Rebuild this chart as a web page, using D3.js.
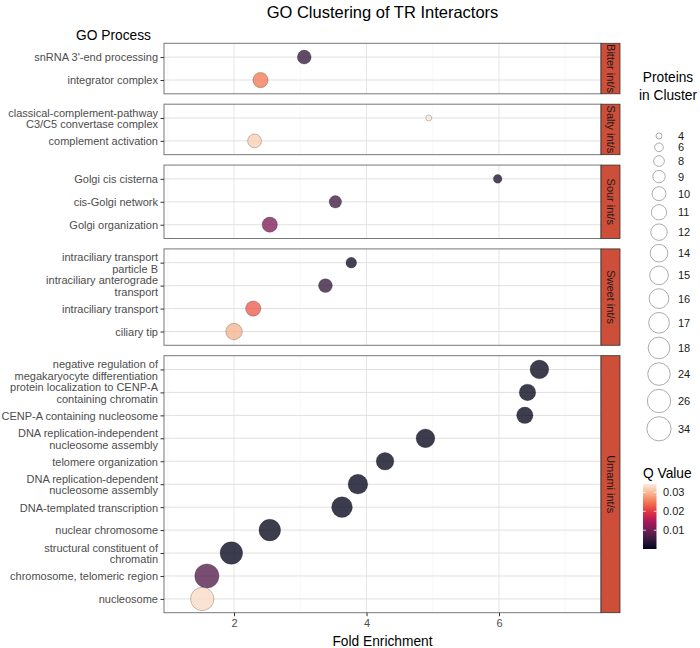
<!DOCTYPE html>
<html><head><meta charset="utf-8">
<script src="https://cdn.jsdelivr.net/npm/d3@7"></script>
<style>body{margin:0;background:#fff} svg{display:block} text{font-family:"Liberation Sans",Arial,Helvetica,sans-serif}</style>
</head><body><svg id="chart" width="700" height="648"></svg>
<script>
// ---------------- data ----------------
const clusters = ["Bitter int/s","Salty int/s","Sour int/s","Sweet int/s","Umami int/s"];
const terms = [
  "snRNA 3'-end processing","integrator complex",
  "classical-complement-pathway\nC3/C5 convertase complex","complement activation",
  "Golgi cis cisterna","cis-Golgi network","Golgi organization",
  "intraciliary transport\nparticle B","intraciliary anterograde\ntransport","intraciliary transport","ciliary tip",
  "negative regulation of\nmegakaryocyte differentiation","protein localization to CENP-A\ncontaining chromatin",
  "CENP-A containing nucleosome","DNA replication-independent\nnucleosome assembly","telomere organization",
  "DNA replication-dependent\nnucleosome assembly","DNA-templated transcription","nuclear chromosome",
  "structural constituent of\nchromatin","chromosome, telomeric region","nucleosome"
];
const termCluster = [0,0, 1,1, 2,2,2, 3,3,3,3, 4,4,4,4,4,4,4,4,4,4,4];
const foldEnrichment = [3.06,2.40, 4.94,2.31, 5.98,3.53,2.54, 3.77,3.38,2.29,2.00,
  6.61,6.43,6.39,4.89,4.28,3.87,3.63,2.54,1.96,1.59,1.52];
const qValue = [0.005,0.0248, 0.0344,0.0317, 0.003,0.006,0.011, 0.0015,0.005,0.0227,0.0295,
  0.0003,0.0004,0.0003,0.0002,0.0003,0.0002,0.0002,0.0003,0.0002,0.0076,0.033];
const proteins = [10,11, 4,10, 6,9,11, 8,10,11,12, 15,12,12,15,14,16,17,18,24,34,26];
const xTicks = [2,4,6];
const xMinorTicks = [1,3,5,7];
const xLimits = [0.943, 7.54];
const qTicks = [0.01,0.02,0.03];
const qLimits = [0.0001, 0.0344];
const rocketStops = ["#03051A","#35193E","#701F57","#AD1759","#E13342","#F37651","#F6B48F","#FAEBDD"];

// ---------------- layout ----------------
const svg = d3.select("#chart");
const panelLeft = 164, panelRight = 601, stripW = 19;
const plotTop = 43.3, plotBottom = 612.7, gap = 10.4;
const counts = clusters.map((c,i)=>termCluster.filter(t=>t===i).length);
const unitsTotal = d3.sum(counts, n => n - 1 + 1.2);
const u = (plotBottom - plotTop - gap*(clusters.length-1)) / unitsTotal;

const x = d3.scaleLinear().domain(xLimits).range([panelLeft, panelRight]);
const color = d3.scaleSequential(d3.piecewise(d3.interpolateRgb, rocketStops)).domain(qLimits);
const levels = Array.from(new Set(proteins)).sort((a,b)=>a-b);
const dMin = 6, dMax = 24.2;
const areaScale = d3.scaleLinear().domain([0, levels.length-1]).range([dMin*dMin, dMax*dMax]);
const diam = v => Math.sqrt(areaScale(levels.indexOf(v)));

const tickCol = "#4D4D4D";
let curTop = plotTop;
const panels = clusters.map((c,i)=>{
  const h = (counts[i]-1+1.2)*u;
  const idx = terms.map((t,j)=>j).filter(j=>termCluster[j]===i);
  const y = d3.scalePoint().domain(idx.map(j=>terms[j])).range([curTop, curTop+h]).padding(0.6);
  const p = {name:c, top:curTop, h, y, idx};
  curTop += h + gap;
  return p;
});

panels.forEach(p=>{
  const g = svg.append("g");
  g.append("rect").attr("x",panelLeft).attr("y",p.top).attr("width",panelRight-panelLeft).attr("height",p.h).attr("fill","#fff");
  g.selectAll(".vmin").data(xMinorTicks).join("line").attr("class","vmin")
    .attr("x1",d=>x(d)).attr("x2",d=>x(d)).attr("y1",p.top).attr("y2",p.top+p.h)
    .attr("stroke","#f3f3f3").attr("stroke-width",0.7);
  g.selectAll(".vmaj").data(xTicks).join("line").attr("class","vmaj")
    .attr("x1",d=>x(d)).attr("x2",d=>x(d)).attr("y1",p.top).attr("y2",p.top+p.h)
    .attr("stroke","#e6e6e6").attr("stroke-width",1);
  g.selectAll(".hmaj").data(p.y.domain()).join("line").attr("class","hmaj")
    .attr("x1",panelLeft).attr("x2",panelRight).attr("y1",d=>p.y(d)).attr("y2",d=>p.y(d))
    .attr("stroke","#e0e0e0").attr("stroke-width",1);
  g.selectAll("circle").data(p.idx).join("circle")
    .attr("cx",j=>x(foldEnrichment[j])).attr("cy",j=>p.y(terms[j]))
    .attr("r",j=>diam(proteins[j])/2)
    .attr("fill",j=>color(qValue[j])).attr("fill-opacity",0.78)
    .attr("stroke","#000").attr("stroke-opacity",0.45).attr("stroke-width",0.5);
  g.append("rect").attr("x",panelLeft).attr("y",p.top).attr("width",panelRight-panelLeft).attr("height",p.h)
    .attr("fill","none").attr("stroke","#777").attr("stroke-width",1);
  g.append("rect").attr("x",panelRight).attr("y",p.top).attr("width",stripW).attr("height",p.h)
    .attr("fill","#CD4F39").attr("stroke","#333").attr("stroke-width",0.8);
  g.append("text").attr("transform",`translate(${panelRight+stripW/2},${p.top+p.h/2}) rotate(90)`)
    .attr("text-anchor","middle").attr("dominant-baseline","central")
    .attr("font-size",11).attr("fill","#1a1a1a").text(p.name);
  const ax = svg.append("g").attr("transform",`translate(${panelLeft},0)`)
    .call(d3.axisLeft(p.y).tickSize(3.5).tickPadding(2.5));
  ax.select(".domain").remove();
  ax.selectAll(".tick line").attr("stroke","#333").attr("stroke-width",1);
  ax.selectAll(".tick text").each(function(d){
    const t = d3.select(this);
    const lines = d.split("\n");
    t.text(null).attr("dy",null).attr("font-size",11).attr("fill",tickCol)
      .attr("font-family","'Liberation Sans',Arial,sans-serif");
    const lh = 11.7;
    lines.forEach((ln,k)=>{
      t.append("tspan").attr("x",-6).attr("y",(k-(lines.length-1)/2)*lh + 3.9).text(ln);
    });
  });
});

const xa = svg.append("g").attr("transform",`translate(0,${plotBottom})`)
  .call(d3.axisBottom(x).tickValues(xTicks).tickSize(3.5).tickPadding(3).tickFormat(d3.format("d")));
xa.select(".domain").remove();
xa.selectAll(".tick line").attr("stroke","#333");
xa.selectAll(".tick text").attr("font-size",11).attr("fill",tickCol).attr("font-family","'Liberation Sans',Arial,sans-serif");

const cx = (panelLeft+panelRight)/2;
svg.append("text").attr("x",cx).attr("y",18).attr("text-anchor","middle").attr("font-size",16.5).attr("fill","#000")
  .text("GO Clustering of TR Interactors");
svg.append("text").attr("x",cx).attr("y",645.5).attr("text-anchor","middle").attr("font-size",13.75).attr("fill","#000")
  .text("Fold Enrichment");
svg.append("text").attr("x",151).attr("y",40).attr("text-anchor","end").attr("font-size",13.75).attr("fill","#000")
  .text("GO Process");

const lg = svg.append("g");
const legCx = 659, legLabX = 678;
lg.append("text").attr("x",668).attr("y",82).attr("text-anchor","middle").attr("font-size",13.75).text("Proteins");
lg.append("text").attr("x",668).attr("y",100).attr("text-anchor","middle").attr("font-size",13.75).text("in Cluster");
const keyH = levels.map(v=>diam(v)+4.0);
let yc = 136;
const keyY = levels.map((v,i)=>{ if(i>0) yc += (keyH[i-1]+keyH[i])/2; return yc; });
levels.forEach((v,i)=>{
  lg.append("circle").attr("cx",legCx).attr("cy",keyY[i]).attr("r",diam(v)/2)
    .attr("fill","#fff").attr("stroke","#8a8a8a").attr("stroke-width",0.7);
  lg.append("text").attr("x",legLabX).attr("y",keyY[i]).attr("dominant-baseline","central")
    .attr("font-size",11).attr("fill","#1a1a1a").text(v);
});

const barX = 643, barW = 13.5, barTop = 484, barBot = 549;
lg.append("text").attr("x",643).attr("y",478).attr("font-size",13.75).text("Q Value");
const qy = d3.scaleLinear().domain(qLimits).range([barBot, barTop]);
const grad = svg.append("defs").append("linearGradient").attr("id","qgrad")
  .attr("x1",0).attr("y1",1).attr("x2",0).attr("y2",0);
d3.range(0,1.0001,0.05).forEach(t=>{
  grad.append("stop").attr("offset",t).attr("stop-color",color(qLimits[0]+t*(qLimits[1]-qLimits[0])));
});
lg.append("rect").attr("x",barX).attr("y",barTop).attr("width",barW).attr("height",barBot-barTop).attr("fill","url(#qgrad)");
qTicks.forEach(q=>{
  lg.append("line").attr("x1",barX).attr("x2",barX+2.7).attr("y1",qy(q)).attr("y2",qy(q)).attr("stroke","#fff").attr("stroke-opacity",0.8);
  lg.append("line").attr("x1",barX+barW-2.7).attr("x2",barX+barW).attr("y1",qy(q)).attr("y2",qy(q)).attr("stroke","#fff").attr("stroke-opacity",0.8);
  lg.append("text").attr("x",663).attr("y",qy(q)).attr("dominant-baseline","central").attr("font-size",11).attr("fill","#1a1a1a").text(q.toFixed(2));
});
</script></body></html>
